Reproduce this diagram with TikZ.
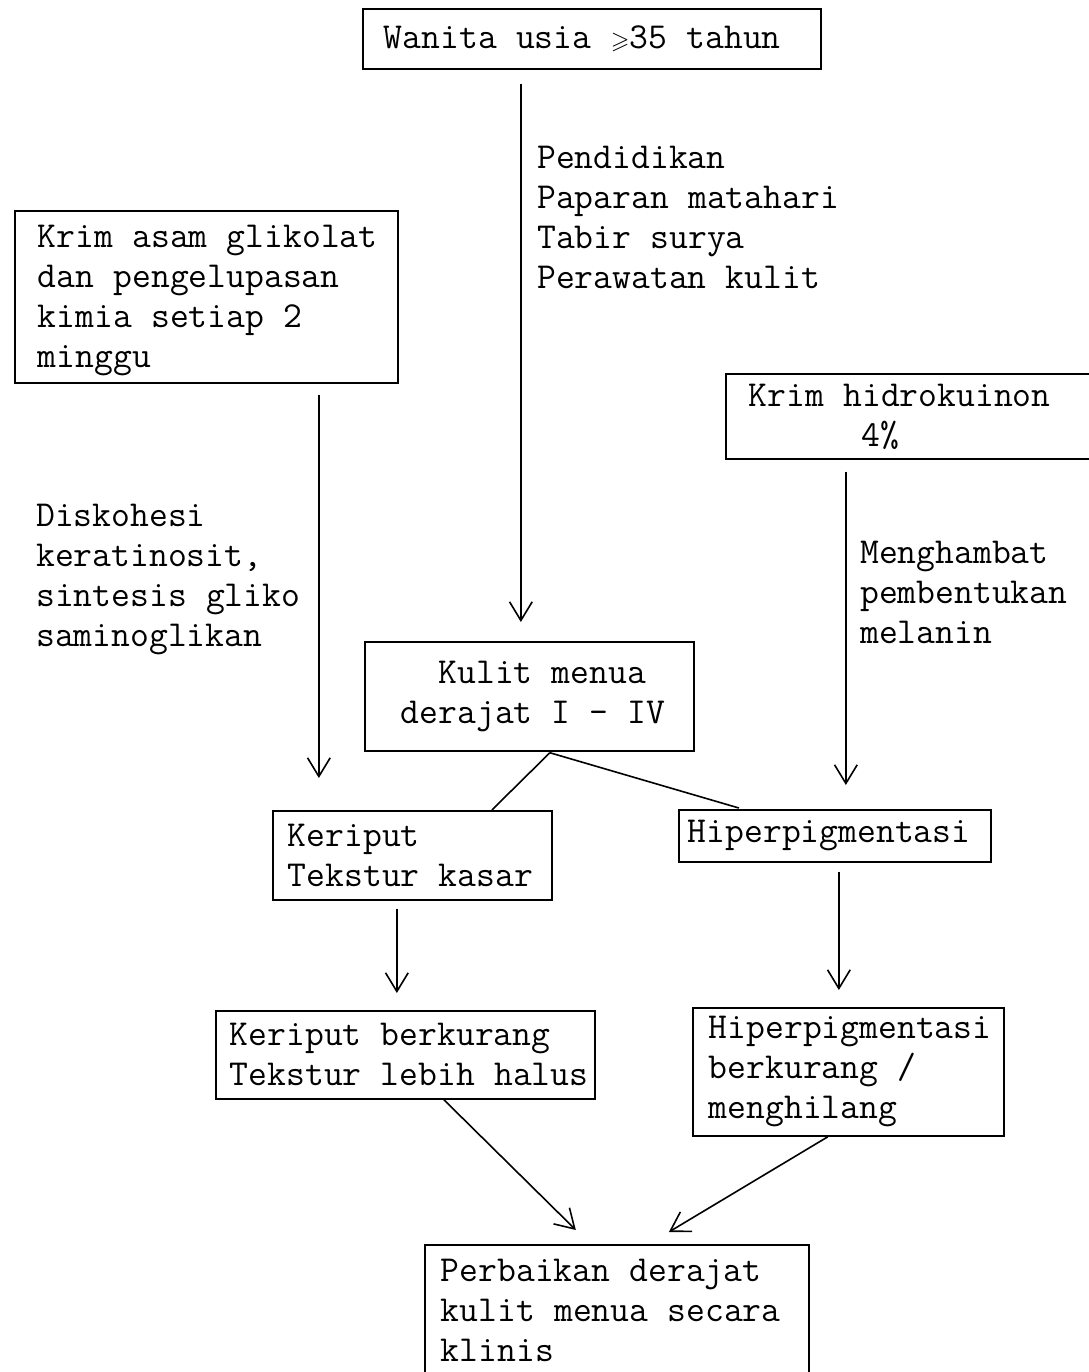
\documentclass[tikz,border=0pt]{standalone}
\usepackage{amssymb}
\usepackage{fontspec}
\newcommand{\twfont}{\ttfamily\fontsize{27.43pt}{30pt}\selectfont\fontdimen2\font=14.4pt\fontdimen3\font=0pt\fontdimen4\font=0pt\relax}
\newcommand{\lineT}[1]{\mbox{\spaceskip=14.4pt\xspaceskip=14.4pt\relax #1}}
\newcommand{\geqs}{\makebox[14.4pt]{\fontsize{18pt}{18pt}\selectfont$\geqslant$}}
\usetikzlibrary{arrows.meta,calc}
\tikzset{
  every node/.style={font=\twfont},
  box/.style={draw, line width=1.3pt, align=left, anchor=north west, inner ysep=0pt},
  lbl/.style={align=left, anchor=base west, inner sep=0pt},
  arr/.style={line width=1.2pt, -{Straight Barb[length=14pt,width=17pt,line width=1.2pt]}},
  con/.style={line width=1.2pt}
}
\begin{document}
\begin{tikzpicture}[x=0.75pt,y=-0.75pt]
\useasboundingbox (0,0) rectangle (1089,1372);

\node[box, minimum width=343.5pt, minimum height=45pt, text width=312pt, inner xsep=15.75pt] (A) at (362,8)
  {\lineT{Wanita usia \geqs35 tahun}};

\node[box, minimum width=287.25pt, minimum height=129pt, text width=252.75pt, inner xsep=17.25pt] (B) at (14,210)
  {\lineT{Krim asam glikolat}\\\lineT{dan pengelupasan}\\\lineT{kimia setiap 2}\\\lineT{minggu}\vspace*{-6pt}};

\node[box, minimum width=281.25pt, minimum height=63.75pt, text width=246.75pt, inner xsep=17.25pt] (C) at (725,373)
  {\lineT{Krim hidrokuinon}\\\lineT{\phantom{000000}4\%}};

\node[box, minimum width=246.75pt, minimum height=81.75pt, text width=192.75pt, inner xsep=27pt] (D) at (364,641)
  {\lineT{\phantom{00}Kulit menua}\\\lineT{derajat I - IV}};

\node[box, minimum width=209.25pt, minimum height=66.75pt, text width=186.75pt, inner xsep=11.25pt] (E) at (272,810)
  {\lineT{Keriput}\\\lineT{Tekstur kasar}};

\node[box, minimum width=234pt, minimum height=39pt, text width=220.5pt, inner xsep=6.75pt] (F) at (678,809)
  {\lineT{Hiperpigmentasi}};

\node[box, minimum width=284.25pt, minimum height=66pt, text width=263.25pt, inner xsep=10.5pt] (G) at (215,1010)
  {\lineT{Keriput berkurang}\\\lineT{Tekstur lebih halus}};

\node[box, minimum width=233.25pt, minimum height=96pt, text width=209.25pt, inner xsep=12pt] (H) at (692,1007)
  {\lineT{Hiperpigmentasi}\\\lineT{berkurang /}\\\lineT{menghilang}};

\node[box, minimum width=288pt, minimum height=99pt, text width=264pt, inner xsep=12pt] (I) at (424,1244)
  {\lineT{Perbaikan derajat}\\\lineT{kulit menua secara}\\\lineT{klinis}};

\node[lbl] (L1) at (537,288) {Pendidikan\\Paparan matahari\\Tabir surya\\Perawatan kulit};
\node[lbl] (L2) at (36,646) {Diskohesi\\keratinosit,\\sintesis gliko\\saminoglikan};
\node[lbl] (L3) at (860,643) {Menghambat\\pembentukan\\melanin};

\draw[arr] ($(A.south)+(-71,14)$) -- ($(D.north)+(-8.5,-19)$);
\draw[arr] ($(B.south)+(112.5,11)$) -- ($(E.north)+(-93.5,-32)$);
\draw[arr] ($(C.south)+(-67.5,12)$) -- ($(F.north)+(11,-24)$);
\draw[con] ($(D.south)+(20.5,1)$) -- ($(E.north)+(79.5,0)$);
\draw[con] ($(D.south)+(20.5,1)$) -- ($(F.north)+(-96,-1)$);
\draw[arr] ($(E.south)+(-15.5,8)$) -- ($(G.north)+(-8.5,-17)$);
\draw[arr] ($(F.south)+(4,9)$) -- ($(H.north)+(-9.5,-17)$);
\draw[arr] ($(G.south)+(37.5,-1)$) -- ($(I.north)+(-41,-14)$);
\draw[arr] ($(H.south)+(-20.5,0)$) -- ($(I.north)+(52,-12)$);
\end{tikzpicture}
\end{document}
